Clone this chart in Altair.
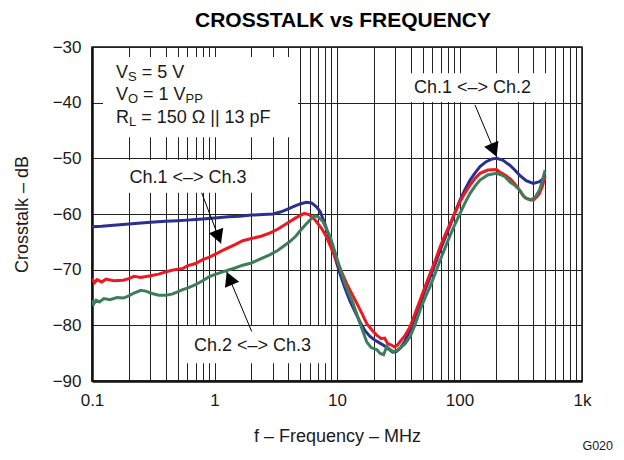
import altair as alt
import pandas as pd

FONT = "Liberation Sans"

# ---------------- data ----------------
# Ch.1 <-> Ch.2 (blue)
f_ch12 = [0.1, 0.12, 0.15, 0.2, 0.3, 0.4, 0.5, 0.6, 0.7, 0.8, 1.0, 1.3, 1.6, 2.0, 2.5, 3.0,
          3.5, 4.0, 4.5, 5.0, 5.6, 6.2, 6.8, 7.3, 8.0, 8.8, 9.6, 10.6, 11.6, 12.8, 14.0, 15.5,
          17.0, 18.6, 20.5, 22.4, 24.5, 26.5, 28.5, 30.5, 32.8, 35.5, 39.6, 43.5, 47.8, 52.5,
          57.6, 63.5, 69.5, 76.5, 84, 92, 101, 111, 122, 134, 147, 165, 185, 200, 225, 256,
          280, 309, 350, 400, 450, 480, 500]
db_ch12 = [-62.3, -62.2, -62.0, -61.8, -61.5, -61.3, -61.2, -61.1, -61.0, -60.9, -60.7, -60.5,
           -60.4, -60.2, -60.1, -60.0, -59.6, -59.1, -58.6, -58.2, -57.9, -58.0, -58.7, -59.6,
           -61.9, -64.8, -67.7, -70.8, -73.3, -75.7, -77.5, -79.5, -81.0, -82.0, -82.7, -83.2,
           -83.7, -84.3, -84.8, -84.7, -84.1, -83.0, -80.8, -78.4, -76.0, -73.6, -71.3, -68.9,
           -66.5, -64.2, -62.0, -59.7, -57.5, -55.6, -53.9, -52.6, -51.5, -50.6, -50.1, -50.0,
           -50.3, -51.2, -52.0, -53.0, -54.0, -54.5, -54.2, -53.7, -53.0]

# Ch.1 <-> Ch.3 (red)
f_ch13 = [0.1, 0.105, 0.11, 0.12, 0.13, 0.15, 0.18, 0.2, 0.22, 0.25, 0.3, 0.35, 0.4, 0.45, 0.5,
          0.55, 0.6, 0.7, 0.8, 0.9, 1.0, 1.2, 1.47, 1.7, 2.0, 2.4, 2.85, 3.3, 4.1, 4.6, 5.0, 5.4,
          5.9, 6.4, 6.8, 7.5, 8.2, 9.0, 9.9, 11.0, 12.0, 13.2, 14.5, 16.0, 17.5, 19.2, 21.2, 23,
          24.5, 26, 27.5, 29.6, 31, 32.8, 36, 39.6, 43.5, 47.8, 52.5, 57.6, 63.5, 69.5, 76.5, 84,
          92, 101, 111, 122, 134, 147, 170, 200, 215, 235, 260, 285, 309, 330, 350, 375, 400,
          425, 450, 475, 500]
db_ch13 = [-71.6, -72.3, -71.8, -72.2, -71.7, -72.0, -71.9, -71.6, -71.2, -71.4, -71.1, -70.8,
           -70.4, -70.1, -69.9, -69.8, -69.3, -68.9, -68.2, -67.8, -67.3, -66.4, -65.5, -64.8,
           -64.4, -64.0, -63.4, -62.7, -61.4, -60.7, -60.3, -59.9, -60.1, -60.7, -61.4, -62.6,
           -64.1, -66.2, -68.3, -70.6, -72.5, -74.3, -76.0, -77.9, -79.7, -80.8, -81.8, -82.4,
           -82.3, -83.3, -83.5, -83.9, -83.6, -82.9, -81.8, -80.2, -77.8, -75.4, -73.0, -70.7,
           -68.3, -65.9, -63.7, -61.7, -59.7, -57.8, -56.2, -54.8, -53.6, -52.7, -52.1, -52.0,
           -52.5, -53.0, -53.7, -54.7, -55.7, -56.7, -57.2, -57.4, -57.5, -57.0, -56.3, -55.0,
           -53.3]

# Ch.2 <-> Ch.3 (green)
f_ch23 = [0.1, 0.103, 0.108, 0.115, 0.125, 0.14, 0.16, 0.18, 0.2, 0.22, 0.25, 0.28, 0.3, 0.35,
          0.4, 0.45, 0.5, 0.55, 0.6, 0.7, 0.8, 0.9, 1.0, 1.2, 1.47, 1.7, 2.0, 2.4, 2.85, 3.3, 4.1,
          4.6, 5.0, 5.6, 6.2, 6.6, 7.0, 7.7, 8.8, 9.9, 11.6, 13.5, 15.5, 17.5, 19, 21.2, 22.4, 24,
          25.5, 27, 28.6, 30.5, 32.8, 36, 39.6, 43.5, 47.8, 52.5, 57.6, 63.5, 69.5, 76.5, 84, 92,
          101, 111, 122, 134, 147, 170, 200, 215, 235, 260, 285, 309, 340, 380, 415, 450, 475, 500]
db_ch23 = [-75.5, -76.2, -75.5, -75.8, -75.2, -75.4, -75.0, -75.1, -74.7, -74.2, -73.7, -73.9,
           -74.2, -74.6, -74.6, -74.4, -74.0, -73.6, -73.3, -72.7, -72.0, -71.3, -70.9, -70.3,
           -69.7, -69.2, -68.8, -68.0, -67.3, -66.5, -65.0, -64.0, -63.0, -61.8, -60.8, -60.3,
           -60.5, -61.4, -64.1, -67.7, -72.5, -76.0, -79.8, -83.0, -84.0, -84.4, -85.0, -85.3,
           -83.8, -84.3, -84.7, -84.6, -84.1, -83.3, -82.0, -79.8, -77.2, -75.0, -73.0, -70.6,
           -68.3, -66.0, -63.8, -61.8, -59.9, -58.0, -56.3, -55.0, -53.9, -53.0, -52.7, -52.9,
           -53.3, -54.3, -54.9, -55.7, -57.0, -57.5, -57.0, -55.7, -54.0, -52.1]

series_names = ["Ch.1 <–> Ch.2", "Ch.1 <–> Ch.3", "Ch.2 <–> Ch.3"]
series_colors = ["#2b2f8e", "#f01820", "#3f7d5a"]

x_label_values = [0.1, 1, 10, 100, 1000]
x_grid_values = [0.1, 0.2, 0.3, 0.4, 0.5, 0.6, 0.7, 0.8, 0.9,
                 1, 2, 3, 4, 5, 6, 7, 8, 9,
                 10, 20, 30, 40, 50, 60, 70, 80, 90,
                 100, 200, 300, 400, 500, 600, 700, 800, 900, 1000]
y_values = [-90, -80, -70, -60, -50, -40, -30]

# annotation boxes (white backgrounds), in data units
box_f1 = [0.123, 0.165, 0.52, 33.9]
box_f2 = [4.8, 2.5, 8.5, 548]
box_db1 = [-31.8, -50.3, -80.1, -34.7]
box_db2 = [-46.2, -56.2, -86.8, -39.9]

# labels of the three curves
lab_text = ["Ch.1 <–> Ch.2", "Ch.1 <–> Ch.3", "Ch.2 <–> Ch.3"]
lab_f = [127.6, 0.608, 2.043]
lab_db = [-38.3, -54.4, -84.7]

# arrows: start, tip, direction angle of head
arr_f1 = [133.8, 0.786, 2.012]
arr_db1 = [-40.4, -56.2, -81.1]
arr_f2 = [201.2, 1.13, 1.258]
arr_db2 = [-49.7, -65.3, -70.4]
arr_angle = [157.2, 159.2, 337.4]

# conditions text block
cond_f = 0.157
cond_db = [-35.6, -39.5, -43.7]

# ---------------- chart ----------------
curves = pd.concat([
    pd.DataFrame({"f": f_ch12, "db": db_ch12, "s": series_names[0]}),
    pd.DataFrame({"f": f_ch13, "db": db_ch13, "s": series_names[1]}),
    pd.DataFrame({"f": f_ch23, "db": db_ch23, "s": series_names[2]}),
], ignore_index=True)
curves["o"] = range(len(curves))

xs = alt.Scale(type="log", domain=[0.1, 1000], nice=False)
ys = alt.Scale(domain=[-90, -30], nice=False)

x_axis = alt.Axis(values=x_grid_values, grid=True, ticks=False, title="f – Frequency – MHz",
                  labelExpr="datum.value == 1000 ? '1k' : (datum.value == 0.1 ? '0.1' : "
                            "(datum.value == 1 || datum.value == 10 || datum.value == 100) ? "
                            "format(datum.value, 'd') : '')",
                  labelPadding=11, titlePadding=19, labelFlush=False)
y_axis = alt.Axis(values=y_values, grid=True, ticks=False, title="Crosstalk – dB",
                  labelPadding=11, titlePadding=21)

X = alt.X("f:Q", scale=xs, axis=x_axis)
Y = alt.Y("db:Q", scale=ys, axis=y_axis)

boxes_df = pd.DataFrame({"f": box_f1, "f2": box_f2, "db": box_db1, "db2": box_db2})
boxes = alt.Chart(boxes_df).mark_rect(color="white", opacity=1).encode(
    x=X, x2="f2:Q", y=Y, y2="db2:Q")

lines = alt.Chart(curves).mark_line(strokeWidth=3, clip=True).encode(
    x=X, y=Y,
    color=alt.Color("s:N", scale=alt.Scale(domain=series_names, range=series_colors), legend=None),
    order="o:Q")

arr_df = pd.DataFrame({"f": arr_f1, "db": arr_db1, "f2": arr_f2, "db2": arr_db2})
shafts = alt.Chart(arr_df).mark_rule(color="black", strokeWidth=1).encode(
    x=X, y=Y, x2="f2:Q", y2="db2:Q")

heads_df = pd.DataFrame({"f": arr_f2, "db": arr_db2, "a": arr_angle})
heads = alt.Chart(heads_df).mark_point(
    shape="M0,0L-0.55,1L0.55,1Z", filled=True, size=784, opacity=1, color="black",
    strokeWidth=0).encode(x=X, y=Y, angle=alt.Angle("a:Q", scale=None))

labels_df = pd.DataFrame({"f": lab_f, "db": lab_db, "t": lab_text})
labels = alt.Chart(labels_df).mark_text(
    font=FONT, fontSize=18, color="#1a1a1a", align="center", baseline="alphabetic").encode(
    x=X, y=Y, text="t:N")


def seg(text, db, dx, size=18, dy=0):
    d = pd.DataFrame({"f": [cond_f], "db": [db], "t": [text]})
    return alt.Chart(d).mark_text(
        font=FONT, fontSize=size, color="#1a1a1a", align="left", baseline="alphabetic",
        dx=dx, dy=dy).encode(x=X, y=Y, text="t:N")


cond = [
    seg("V", cond_db[0], 0), seg("S", cond_db[0], 12.0, 13, 3), seg("= 5 V", cond_db[0], 25.7),
    seg("V", cond_db[1], 0), seg("O", cond_db[1], 12.0, 13, 3), seg("= 1 V", cond_db[1], 27.1),
    seg("PP", cond_db[1], 69.6, 13, 3),
    seg("R", cond_db[2], 0), seg("L", cond_db[2], 13.0, 13, 3),
    seg("= 150 Ω || 13 pF", cond_db[2], 25.2),
]

g020 = alt.Chart(pd.DataFrame({"t": ["G020"]})).mark_text(
    font=FONT, fontSize=12.5, color="#1a1a1a", align="right", baseline="alphabetic").encode(
    x=alt.value(521), y=alt.value(403), text="t:N")

chart = alt.layer(boxes, lines, shafts, heads, labels, *cond, g020).properties(
    width=490, height=334,
    padding={"left": 84, "top": 39, "right": 32, "bottom": 71},
    autosize=alt.AutoSizeParams(type="none"),
    title=alt.TitleParams("CROSSTALK vs FREQUENCY", fontSize=21, fontWeight="bold", font=FONT,
                          anchor="middle", dx=6, offset=7, color="black"),
).configure_view(stroke="#111", strokeWidth=1.5).configure_axis(
    labelFont=FONT, labelFontSize=17, labelColor="#1a1a1a",
    titleFont=FONT, titleFontSize=18, titleFontWeight="normal", titleColor="#1a1a1a",
    domainColor="#111", domainWidth=2.5, gridColor="#222", gridWidth=1, gridOpacity=1,
)

chart.save("out.html", embed_options={"renderer": "svg", "actions": False})
